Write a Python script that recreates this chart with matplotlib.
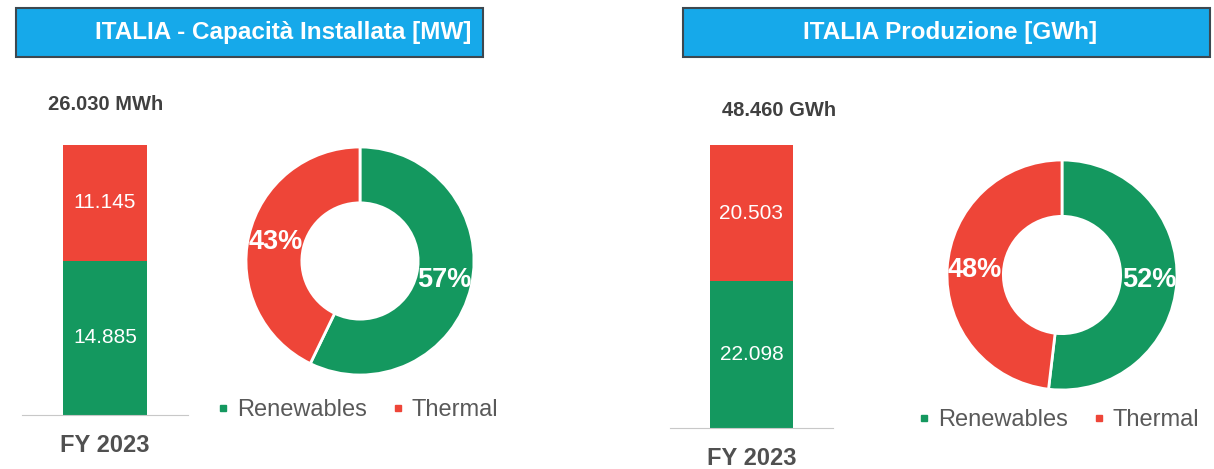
import matplotlib
matplotlib.use("Agg")
import matplotlib.pyplot as plt
from matplotlib.patches import Rectangle
from matplotlib.lines import Line2D

plt.rcParams['font.family'] = ['Liberation Sans', 'DejaVu Sans']

# data
categories = ["Renewables", "Thermal"]
year_label = ["FY 2023"]

cap_titles = "ITALIA - Capacità Installata [MW]"
cap_total_label = "26.030 MWh"
cap_values = [14885, 11145]      # renewables, thermal

prod_titles = "ITALIA Produzione [GWh]"
prod_total_label = "48.460 GWh"
prod_values = [22098, 20503]     # renewables, thermal

green = "#14985f"
red = "#ee4538"
colors = [green, red]
blue = "#16a9ea"

W, H = 1214, 469
fig = plt.figure(figsize=(W / 100, H / 100), dpi=100)


def px_axes(x0, y0, x1, y1):
    # pixel box (top-left origin) -> figure axes
    return fig.add_axes([x0 / W, 1 - y1 / H, (x1 - x0) / W, (y1 - y0) / H])


def fmt(v):
    return f"{v:,}".replace(",", ".")


def title_box(x0, x1, text, text_x):
    fig.patches.append(Rectangle((x0 / W, 1 - 57 / H), (x1 - x0) / W, 49 / H,
                                 transform=fig.transFigure, facecolor=blue,
                                 edgecolor="#3d4850", linewidth=1.5))
    fig.text(text_x / W, 1 - 33 / H, text, color="white", fontsize=17.5,
             fontweight="bold", ha="center", va="center")


def stacked_bar(box, values, bar_w):
    ax = px_axes(*box)
    bottom = 0
    for v, c in zip(values, colors):
        ax.bar([0], [v], bottom=bottom, width=bar_w, color=c)
        ax.text(0, bottom + v / 2, fmt(v), color="white", fontsize=15,
                ha="center", va="center")
        bottom += v
    ax.set_xlim(-1, 1)
    ax.set_ylim(0, sum(values))
    for s in ["top", "left", "right"]:
        ax.spines[s].set_visible(False)
    ax.spines["bottom"].set_color("#c8c8c8")
    ax.set_yticks([])
    ax.set_xticks([0])
    ax.set_xticklabels(year_label, fontsize=17, fontweight="bold", color="#505050")
    ax.tick_params(axis="x", length=0, pad=14)
    ax.patch.set_alpha(0)
    return ax


def donut(box, values, legend_xy):
    ax = px_axes(*box)
    wedges, _, autotexts = ax.pie(values, colors=colors, startangle=90,
                                  counterclock=False, radius=1,
                                  autopct="%.0f%%", pctdistance=0.76,
                                  wedgeprops=dict(width=0.49, edgecolor="white",
                                                  linewidth=2))
    for t in autotexts:
        t.set_color("white")
        t.set_fontsize(19.5)
        t.set_fontweight("bold")
    ax.set_xlim(-1, 1)
    ax.set_ylim(-1, 1)
    ax.set_aspect("equal")
    handles = [Line2D([], [], marker="s", linestyle="none", markersize=5,
                      color=c) for c in colors]
    fig.legend(handles, categories, loc="center", ncol=2, frameon=False,
               bbox_to_anchor=(legend_xy[0] / W, 1 - legend_xy[1] / H),
               fontsize=17, labelcolor="#595959", handlelength=0.6,
               handletextpad=0.3, columnspacing=1.0)
    return ax


# left panel
title_box(16, 483, cap_titles, 283)
fig.text(48 / W, 1 - 105 / H, cap_total_label, fontsize=14.5, fontweight="bold",
         color="#404040", va="center")
stacked_bar((22, 145, 188, 415), cap_values, 1.012)
donut((246, 147, 474, 375), cap_values, (357, 410))

# right panel
title_box(683, 1210, prod_titles, 950)
fig.text(722 / W, 1 - 110 / H, prod_total_label, fontsize=14.5, fontweight="bold",
         color="#404040", va="center")
stacked_bar((670, 145, 833, 428), prod_values, 1.018)
donut((947, 160, 1177, 390), prod_values, (1058, 420))

fig.savefig("out.png", dpi=100)
